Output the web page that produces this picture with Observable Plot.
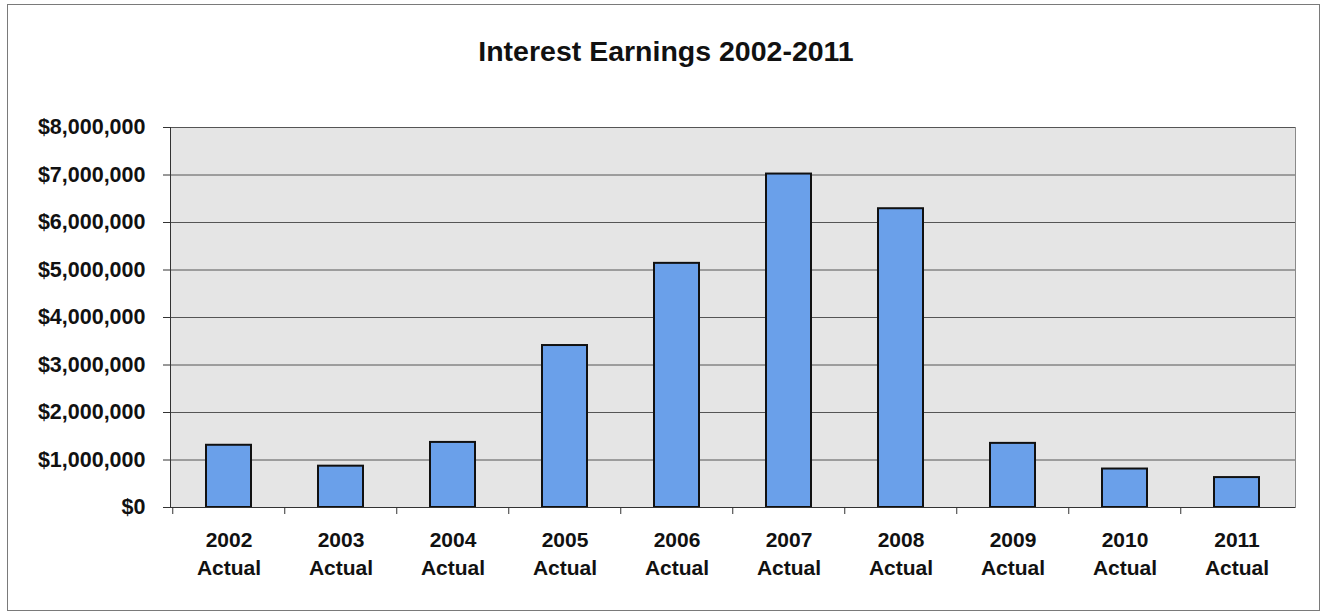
<!DOCTYPE html>
<html>
<head>
<meta charset="utf-8">
<script src="https://cdn.jsdelivr.net/npm/d3@7"></script>
<script src="https://cdn.jsdelivr.net/npm/@observablehq/plot@0.6"></script>
<style>
  html, body { margin: 0; padding: 0; background: #fff; }
  #wrap { position: relative; width: 1322px; height: 614px; overflow: hidden; font-family: "Liberation Sans", Arial, sans-serif; }
  #border { position: absolute; left: 7px; top: 4px; width: 1313px; height: 607px; border: 1px solid #7a7a7a; box-sizing: border-box; pointer-events: none; }
  #title { height: 100px; box-sizing: border-box; padding-top: 35px; line-height: 32px; font-size: 28.5px; font-weight: bold; text-align: center; color: #111; padding-left: 10px; }
</style>
</head>
<body>
<div id="wrap">
  <div id="title">Interest Earnings 2002-2011</div>
  <div id="chart"></div>
  <div id="border"></div>
</div>
<script>
const years = ["2002", "2003", "2004", "2005", "2006", "2007", "2008", "2009", "2010", "2011"];
const suffix = "Actual";
const earnings = [1310000, 870000, 1370000, 3410000, 5140000, 7020000, 6290000, 1350000, 810000, 630000];
const yTicks = [0, 1000000, 2000000, 3000000, 4000000, 5000000, 6000000, 7000000, 8000000];

const data = years.map((y, i) => ({year: y, value: earnings[i]}));

const W = 1322, H = 514, ml = 170, mr = 27, mt = 27, mb = 107;
const halfStep = (W - ml - mr) / years.length / 2;
const font = "'Liberation Sans', Arial, sans-serif";

const chart = Plot.plot({
  width: W,
  height: H,
  marginLeft: ml,
  marginRight: mr,
  marginTop: mt,
  marginBottom: mb,
  style: {fontFamily: font, background: "transparent", color: "#111"},
  x: {domain: years, paddingInner: 0.6, paddingOuter: 0.3, label: null},
  y: {domain: [0, 8000000], label: null},
  marks: [
    Plot.frame({fill: "#e5e5e5", stroke: "#8a8a8a"}),
    Plot.gridY(yTicks, {stroke: "#555", strokeOpacity: 1, strokeWidth: 1}),
    Plot.axisY(yTicks, {
      tickSize: 7, tickPadding: 18, stroke: "#333",
      tickFormat: d3.format("$,"),
      fontSize: 21.5, fontWeight: "bold", fill: "#111", label: null
    }),
    Plot.axisX({
      tickSize: 7, dx: -halfStep, stroke: "#333",
      tickFormat: () => "", label: null
    }),
    Plot.axisX({
      tickSize: 0, tickPadding: 20, lineHeight: 1.33,
      tickFormat: d => d + "\n" + suffix,
      fontSize: 21, fontWeight: "bold", fill: "#111", label: null
    }),
    Plot.barY(data, {x: "year", y: "value", fill: "#6aa0ea", stroke: "#111", strokeWidth: 2}),
    Plot.frame({anchor: "left", stroke: "#333"}),
    Plot.ruleY([0], {stroke: "#333"})
  ]
});
document.getElementById("chart").appendChild(chart);
</script>
</body>
</html>
